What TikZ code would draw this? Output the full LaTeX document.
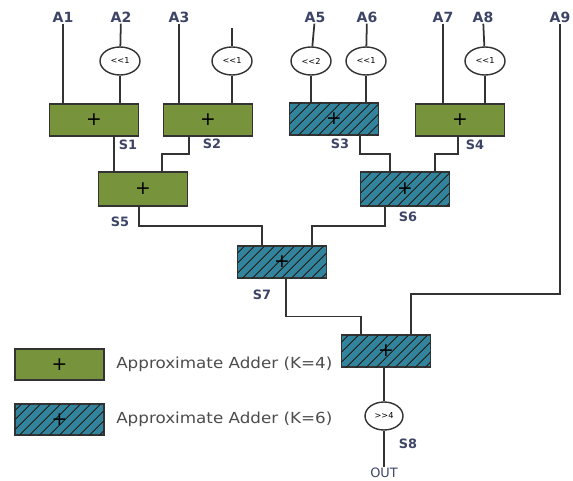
\documentclass[tikz,border=0pt]{standalone}
\usepackage{fontspec}
\setsansfont{DejaVu Sans}
\newfontfamily\keyfont{DejaVu Sans}[FakeStretch=1.1]
\usetikzlibrary{shapes.geometric, positioning, patterns.meta}
\definecolor{addgreen}{HTML}{77933C}
\definecolor{addteal}{HTML}{31849B}
\definecolor{labelblue}{HTML}{3D4466}

\begin{document}
\begin{tikzpicture}[
    x=0.03cm, y=-0.03cm,
    adder/.style={rectangle, draw=black!80, line width=1.5pt, fill=addgreen, minimum width=2.67cm, minimum height=0.96cm, inner sep=0pt, font=\sffamily\fontsize{16}{16}\selectfont},
    hatched/.style={adder, fill=addteal, postaction={pattern={Lines[angle=45, distance=6.5pt, line width=0.9pt]}, pattern color=black!85}},
    shifter/.style={ellipse, draw=black!80, line width=1.2pt, fill=white, minimum width=1.2cm, minimum height=0.84cm, inner sep=0pt, font=\sffamily\fontsize{7}{7}\selectfont},
    inlabel/.style={font=\sffamily\bfseries\fontsize{12}{12}\selectfont, text=labelblue, inner sep=1pt},
    sumlabel/.style={font=\sffamily\bfseries\fontsize{11}{11}\selectfont, text=labelblue, inner sep=1pt},
    keytext/.style={font=\keyfont\fontsize{13}{13}\selectfont, text=black!70, inner sep=1pt, anchor=west},
    wire/.style={draw=black!80, line width=1.5pt}
]
    \useasboundingbox (0,0) rectangle (573,480);

    % inputs
    \node[inlabel] (A1) at (63,17) {A1};
    \node[inlabel] (A2) at (121,17) {A2};
    \node[inlabel] (A3) at (179,17) {A3};
    \node[inlabel] (A5) at (315,17) {A5};
    \node[inlabel] (A6) at (367,17) {A6};
    \node[inlabel] (A7) at (443,17) {A7};
    \node[inlabel] (A8) at (483,17) {A8};
    \node[inlabel] (A9) at (560,17) {A9};
    \coordinate (A4) at (232,28);

    % shifters
    \node[shifter] (sh1) at (120,61) {<\kern0pt<1};
    \node[shifter] (sh2) at (232,61) {<\kern0pt<1};
    \node[shifter] (sh3) at (311,61) {<\kern0pt<2};
    \node[shifter] (sh4) at (366,61) {<\kern0pt<1};
    \node[shifter] (sh5) at (485,61) {<\kern0pt<1};

    % adder tree
    \node[adder] (add1) at (94,120) {+};
    \node[adder] (add2) at (208,120) {+};
    \node[hatched] (add3) at (334,119) {+};
    \node[adder] (add4) at (460,120) {+};
    \node[adder, minimum height=1.02cm] (add5) at (143,189) {+};
    \node[hatched, minimum height=1.02cm] (add6) at (405,189) {+};
    \node[hatched] (add7) at (282,262) {+};
    \node[hatched] (add8) at (386,351) {+};
    \node[shifter, minimum width=1.14cm] (sh6) at (384,416) {>\kern0pt>4};
    \node[inlabel, font=\sffamily\fontsize{11}{11}\selectfont] (OUT) at (384,473) {OUT};

    % sum labels
    \node[sumlabel] at (128,145) {S1};
    \node[sumlabel] at (212,144) {S2};
    \node[sumlabel] at (340,144) {S3};
    \node[sumlabel] at (475,145) {S4};
    \node[sumlabel] at (120,222) {S5};
    \node[sumlabel] at (408,217) {S6};
    \node[sumlabel] at (262,295) {S7};
    \node[sumlabel] at (408,444) {S8};

    % input wires
    \draw[wire] (A1) -- (A1 |- add1.north);
    \draw[wire] (A2) -- (sh1);
    \draw[wire] (sh1) -- (sh1 |- add1.north);
    \draw[wire] (A3) -- (A3 |- add2.north);
    \draw[wire] (A4) -- (sh2);
    \draw[wire] (sh2) -- (sh2 |- add2.north);
    \draw[wire] (A5) -- (sh3);
    \draw[wire] (sh3) -- (sh3 |- add3.north);
    \draw[wire] (A6) -- (sh4);
    \draw[wire] (sh4) -- (sh4 |- add3.north);
    \draw[wire] (A7) -- (A7 |- add4.north);
    \draw[wire] (A8) -- (sh5);
    \draw[wire] (sh5) -- (sh5 |- add4.north);
    \draw[wire] (A9) -- (A9 |- 0,294) -| (411,0 |- add8.north);

    % sum wires
    \draw[wire] (add1.south -| 114,0) -- (add5.north -| 114,0);
    \draw[wire] (add2.south -| 189,0) -- ++(0,17) -| (add5.north -| 162,0);
    \draw[wire] (add3.south -| 360,0) -- ++(0,18) -| (add6.north -| 390,0);
    \draw[wire] (add4.south -| 458,0) -- ++(0,17) -| (add6.north -| 435,0);
    \draw[wire] (add5.south -| 139,0) -- ++(0,19) -| (add7.north -| 262,0);
    \draw[wire] (add6.south -| 385,0) -- ++(0,19) -| (add7.north -| 312,0);
    \draw[wire] (add7.south -| 286,0) -- ++(0,37.5) -| (add8.north -| 361,0);
    \draw[wire] (add8.south -| sh6) -- (sh6);
    \draw[wire] (sh6) -- (OUT);

    % legend
    \node[adder, minimum height=0.93cm] (key4) at (59.5,364.5) {+};
    \node[hatched, minimum height=0.93cm] (key6) at (59.5,419.5) {+};
    \node[keytext, right=0.3cm of key4] (key4text) {Approximate Adder (K=4)};
    \node[keytext, right=0.3cm of key6] (key6text) {Approximate Adder (K=6)};
\end{tikzpicture}
\end{document}
